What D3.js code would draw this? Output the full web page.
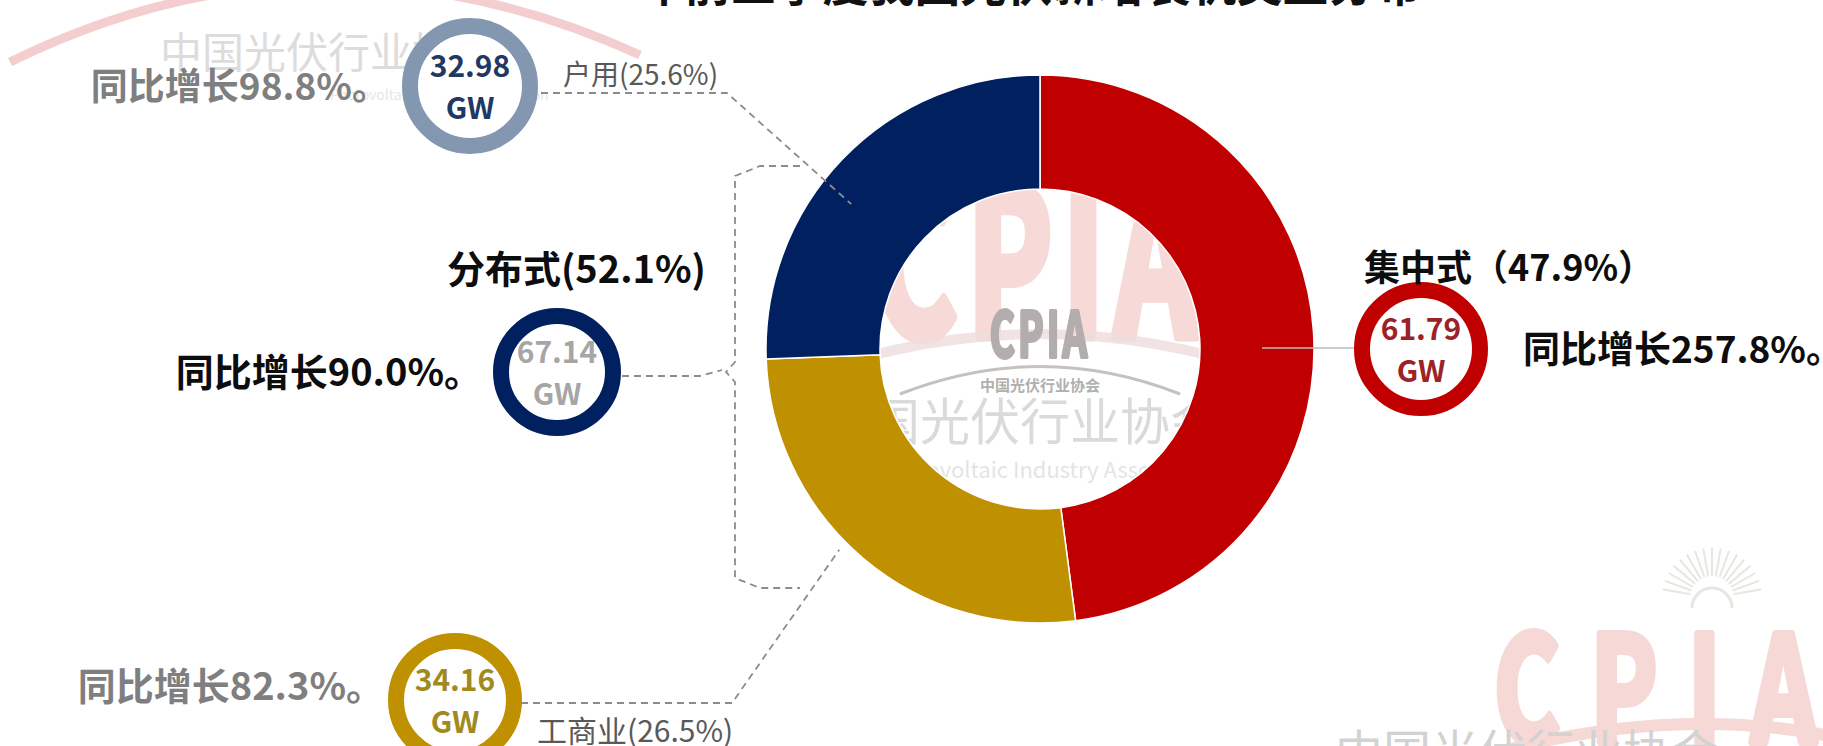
<!DOCTYPE html>
<html>
<head>
<meta charset="utf-8">
<script src="https://cdn.jsdelivr.net/npm/d3@7"></script>
<style>
  html, body { margin: 0; padding: 0; background: #fff; overflow: hidden; }
  svg { display: block; }
  text { font-family: "Noto Sans CJK SC", "Noto Sans", sans-serif; }
</style>
</head>
<body>
<svg id="chart" width="1823" height="746"></svg>
<script>
// ---- data ----
const titleYear = "2023";
const titleRest = "年前三季度我国光伏新增装机类型分布";
const categories = ["集中式", "工商业", "户用"];
const capacityGW = [61.79, 34.16, 32.98];
const shares = [47.9, 26.5, 25.6];
const yoyGrowth = [257.8, 82.3, 98.8];
const segmentColors = ["#c00000", "#bf9000", "#002060"];
const groupName = "分布式";
const groupShare = 52.1;
const groupGW = 67.14;
const groupGrowth = 90.0;

const W = 1823, H = 746;
const svg = d3.select("#chart");
const condensed = "Liberation Sans Narrow, DejaVu Sans Condensed, sans-serif";

// ---- faint background watermarks ----
const wm = svg.append("g").attr("class", "watermark");
// top-left arc + association name
wm.append("path")
  .attr("d", "M 10 62 Q 320 -90 640 55")
  .attr("fill", "none").attr("stroke", "#f3c9c9").attr("stroke-width", 9).attr("opacity", 0.9);
wm.append("text").attr("x", 160).attr("y", 68).attr("font-size", 42)
  .attr("fill", "#dcdcdc").text("中国光伏行业协会");
wm.append("text").attr("x", 330).attr("y", 100).attr("font-size", 14)
  .attr("fill", "#e6e6e6").text("Photovoltaic Industry Association");

// heavy, stretched condensed lettering for the logo marks
function logoText(g, x, y, size, sx, sy, color, spacing, weight) {
  return g.append("text")
    .attr("transform", `translate(${x},${y}) scale(${sx},${sy})`)
    .attr("text-anchor", "middle")
    .attr("font-family", condensed).attr("font-weight", "bold")
    .attr("font-size", size).attr("fill", color)
    .attr("stroke", color).attr("stroke-width", weight).attr("stroke-linejoin", "round")
    .attr("letter-spacing", size * spacing)
    .text("CPIA");
}

// centre logo
const cx = 1040, cy = 349;
logoText(wm, cx, 336, 150, 0.85, 1.35, "#f7dad7", 0.08, 8);
wm.append("path")
  .attr("d", `M ${cx-270} ${cy+40} Q ${cx} ${cy-70} ${cx+270} ${cy+40}`)
  .attr("fill", "none").attr("stroke", "#eedcdc").attr("stroke-width", 10).attr("opacity", 0.8);
logoText(wm, cx, 357, 48, 0.8, 1.3, "#b3adad", 0.08, 3);
wm.append("path")
  .attr("d", `M ${cx-140} ${cy+45} Q ${cx} ${cy-10} ${cx+140} ${cy+45}`)
  .attr("fill", "none").attr("stroke", "#c6c0c0").attr("stroke-width", 3);
wm.append("text").attr("x", cx).attr("y", 391).attr("text-anchor", "middle")
  .attr("font-size", 15).attr("font-weight", "bold").attr("fill", "#b0b0b0").text("中国光伏行业协会");
wm.append("text").attr("x", cx + 5).attr("y", 440).attr("text-anchor", "middle")
  .attr("font-size", 50).attr("fill", "#dadada").text("国光伏行业协会");
wm.append("text").attr("x", cx + 10).attr("y", 478).attr("text-anchor", "middle")
  .attr("font-size", 22).attr("fill", "#e4e4e4").text("Photovoltaic Industry Association");

// bottom-right logo with its sunburst
const sun = wm.append("g").attr("transform", "translate(1712,598)");
sun.selectAll("line").data(d3.range(-80, 81, 10)).join("line")
  .attr("x1", a => 22 * Math.sin(a * Math.PI / 180)).attr("y1", a => -22 * Math.cos(a * Math.PI / 180))
  .attr("x2", a => 50 * Math.sin(a * Math.PI / 180)).attr("y2", a => -50 * Math.cos(a * Math.PI / 180))
  .attr("stroke", "#e8e6e0").attr("stroke-width", 2);
sun.append("path").attr("d", "M -20 10 A 20 20 0 0 1 20 10")
  .attr("fill", "none").attr("stroke", "#e8e6e0").attr("stroke-width", 3);
logoText(wm, 1670, 742, 112, 0.9, 1.3, "#f6d9d6", 0.3, 6);
wm.append("path")
  .attr("d", "M 1470 760 Q 1670 700 1850 740")
  .attr("fill", "none").attr("stroke", "#f6d8d5").attr("stroke-width", 12);
wm.append("text").attr("x", 1335).attr("y", 770).attr("font-size", 48)
  .attr("fill", "#d2d2d2").text("中国光伏行业协会");

// ---- title (runs off the top edge) ----
const titleText = svg.append("text").attr("x", 530).attr("y", 1)
  .attr("font-size", 46).attr("font-weight", "bold").attr("fill", "#111");
titleText.append("tspan").attr("dy", -5).text(titleYear);
titleText.append("tspan").attr("dy", 5).text(titleRest);

// ---- donut ----
const outerR = 274, innerR = 160;
const pie = d3.pie().sort(null).value(d => d.value);
const data = categories.map((c, i) => ({ name: c, value: capacityGW[i], color: segmentColors[i] }));
const arcs = pie(data);
const arc = d3.arc().innerRadius(innerR).outerRadius(outerR);

const donut = svg.append("g").attr("transform", `translate(${cx},${cy})`);
donut.selectAll("path").data(arcs).join("path")
  .attr("d", arc)
  .attr("fill", d => d.data.color)
  .attr("stroke", "#fff").attr("stroke-width", 1.5);

// point on the ring at a given angle (d3 convention: 0 = 12 o'clock, clockwise)
const polar = (a, r) => [cx + r * Math.sin(a), cy - r * Math.cos(a)];

// ---- value rings ----
function valueRing(x, y, r, color, textColor, value) {
  const g = svg.append("g");
  g.append("circle").attr("cx", x).attr("cy", y).attr("r", r - 8)
    .attr("fill", "#fff").attr("stroke", color).attr("stroke-width", 16);
  g.append("text").attr("x", x).attr("y", y - 9).attr("text-anchor", "middle")
    .attr("font-size", 30).attr("font-weight", "bold").attr("fill", textColor)
    .text(value.toFixed(2));
  g.append("text").attr("x", x).attr("y", y + 33).attr("text-anchor", "middle")
    .attr("font-size", 30).attr("font-weight", "bold").attr("fill", textColor)
    .text("GW");
}

const dash = { stroke: "#8c8c8c", "stroke-width": 1.8, "stroke-dasharray": "7,5", fill: "none" };
function leader(points, style) {
  const p = svg.append("path").attr("d", d3.line()(points));
  Object.entries(style).forEach(([k, v]) => p.attr(k, v));
  return p;
}

// 户用 (navy segment)
const home = arcs[2];
const homeEnd = polar(home.startAngle + (home.endAngle - home.startAngle) * 0.43, 238);
leader([[541, 93], [727, 93], homeEnd], dash);
valueRing(470, 86, 68, "#8497b0", "#1f3864", capacityGW[2]);
svg.append("text").attr("x", 389).attr("y", 100).attr("text-anchor", "end")
  .attr("font-size", 37).attr("font-weight", "bold").attr("fill", "#7f7f7f")
  .text(`同比增长${yoyGrowth[2].toFixed(1)}%。`);
svg.append("text").attr("x", 563).attr("y", 85)
  .attr("font-size", 28).attr("fill", "#595959")
  .text(`${categories[2]}(${shares[2].toFixed(1)}%)`);

// 工商业 (gold segment)
const ci = arcs[1];
const ciEnd = polar(ci.startAngle + (ci.endAngle - ci.startAngle) * 0.55, outerR + 10);
leader([[521, 703], [732, 703], ciEnd], dash);
valueRing(455, 700, 67, "#bf9000", "#a08a1e", capacityGW[1]);
svg.append("text").attr("x", 384).attr("y", 700).attr("text-anchor", "end")
  .attr("font-size", 38).attr("font-weight", "bold").attr("fill", "#7f7f7f")
  .text(`同比增长${yoyGrowth[1].toFixed(1)}%。`);
svg.append("text").attr("x", 537).attr("y", 742)
  .attr("font-size", 30).attr("fill", "#595959")
  .text(`${categories[1]}(${shares[1].toFixed(1)}%)`);

// 分布式 group bracket (户用 + 工商业)
leader([[800, 166], [760, 166], [735, 176], [735, 362], [726, 372], [735, 382], [735, 578], [760, 588], [800, 588]], dash);
leader([[622, 376], [700, 376], [722, 370]], dash);
valueRing(557, 372, 64, "#002060", "#a6a6a6", groupGW);
svg.append("text").attr("x", 482).attr("y", 386).attr("text-anchor", "end")
  .attr("font-size", 38).attr("font-weight", "bold").attr("fill", "#0d0d0d")
  .text(`同比增长${groupGrowth.toFixed(1)}%。`);
svg.append("text").attr("x", 447).attr("y", 283)
  .attr("font-size", 38).attr("font-weight", "bold").attr("fill", "#0d0d0d")
  .text(`${groupName}(${groupShare.toFixed(1)}%)`);

// 集中式 (red segment)
const cen = arcs[0];
const cenStart = polar(cen.startAngle + (cen.endAngle - cen.startAngle) * 0.52, 222);
leader([cenStart, [1355, cenStart[1]]], { stroke: "#bdbdbd", "stroke-width": 1.5, fill: "none" });
valueRing(1421, 349, 67, "#c00000", "#9b2226", capacityGW[0]);
svg.append("text").attr("x", 1364).attr("y", 281)
  .attr("font-size", 36).attr("font-weight", "bold").attr("fill", "#0d0d0d")
  .text(`${categories[0]}（${shares[0].toFixed(1)}%）`);
svg.append("text").attr("x", 1523).attr("y", 363)
  .attr("font-size", 37).attr("font-weight", "bold").attr("fill", "#0d0d0d")
  .text(`同比增长${yoyGrowth[0].toFixed(1)}%。`);
</script>
</body>
</html>
